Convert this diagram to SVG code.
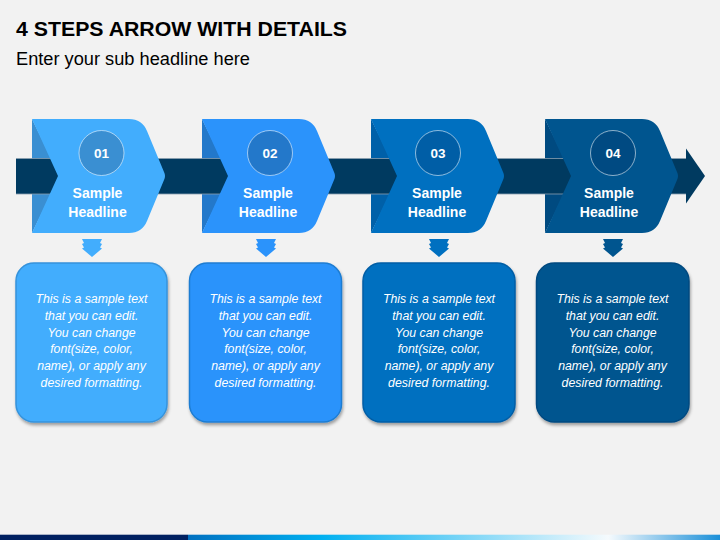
<svg xmlns="http://www.w3.org/2000/svg" width="720" height="540" viewBox="0 0 720 540">
<defs>
<style>
.title{font-family:"Liberation Sans",Arial,sans-serif;font-weight:bold;font-size:21px;fill:#000}
.sub{font-family:"Liberation Sans",Arial,sans-serif;font-size:17.5px;fill:#000}
.num{font-family:"Liberation Sans",Arial,sans-serif;font-weight:bold;font-size:13.5px;fill:#fff;text-anchor:middle}
.head{font-family:"Liberation Sans",Arial,sans-serif;font-weight:bold;font-size:14px;fill:#fff;text-anchor:middle}
.body{font-family:"Liberation Sans",Arial,sans-serif;font-style:italic;font-size:12.3px;fill:#fff;text-anchor:middle}
.ring{stroke:#ffffff;stroke-opacity:0.55;stroke-width:1}
</style>
<filter id="sh" x="-10%" y="-10%" width="120%" height="125%">
<feDropShadow dx="1" dy="2.5" stdDeviation="1.8" flood-color="#000" flood-opacity="0.35"/>
</filter>
<linearGradient id="bg" x1="0" y1="0" x2="1" y2="0">
<stop offset="0" stop-color="#0070c0"/>
<stop offset="0.25" stop-color="#00b0f0"/>
<stop offset="0.79" stop-color="#f5fafd"/>
<stop offset="1" stop-color="#1a8fd8"/>
</linearGradient>
</defs>
<rect width="720" height="540" fill="#f2f2f2"/>
<text class="title" x="16" y="36" textLength="331" lengthAdjust="spacingAndGlyphs">4 STEPS ARROW WITH DETAILS</text>
<text class="sub" x="16" y="64.5" textLength="234" lengthAdjust="spacingAndGlyphs">Enter your sub headline here</text>

<g id="shadows">
<polygon points="32,119 60,176 32,233" fill="#3a8fd2"/>
<polygon points="202,119 230,176 202,233" fill="#2378ca"/>
<polygon points="371,119 399,176 371,233" fill="#0060a8"/>
<polygon points="545,119 573,176 545,233" fill="#004a80"/>
</g>

<g id="connectors">
<rect x="16" y="158.5" width="672" height="35.5" fill="#003a60"/>
<line x1="16" y1="158.5" x2="688" y2="158.5" stroke="#8a9fb0" stroke-width="0.8"/>
<line x1="16" y1="194" x2="688" y2="194" stroke="#8a9fb0" stroke-width="0.8"/>
<polygon points="686,148.5 705,176 686,203.5" fill="#003a60"/>
</g>

<g id="step1">
<path d="M32,119 H129 Q142,119 147,131 L164,172 Q166,176 164,180 L147,221 Q142,233 129,233 H32 L58,176 Z" fill="#42adfd"/>
<circle class="ring" cx="101.5" cy="153" r="22.5" fill="#3a8fd2"/>
<text class="num" x="101.5" y="158">01</text>
<text class="head" x="97.5" y="197.5">Sample</text>
<text class="head" x="97.5" y="216.5">Headline</text>
<path d="M82,239 H102 L100,243 L102,244 L100,247.5 L102,248.5 L92,257 L82,248.5 L84,247.5 L82,244 L84,243 Z" fill="#42adfd"/>
<rect x="16" y="263" width="151" height="159" rx="18" fill="#42adfd" stroke="#3593dc" stroke-width="1.5" filter="url(#sh)"/>
<text class="body" x="91.5" y="303.3">This is a sample text</text>
<text class="body" x="91.5" y="320">that you can edit.</text>
<text class="body" x="91.5" y="336.7">You can change</text>
<text class="body" x="91.5" y="353.3">font(size, color,</text>
<text class="body" x="91.5" y="370">name), or apply any</text>
<text class="body" x="91.5" y="386.7">desired formatting.</text>
</g>

<g id="step2">
<path d="M202,119 H299 Q312,119 317,131 L334,172 Q336,176 334,180 L317,221 Q312,233 299,233 H202 L228,176 Z" fill="#2b93fb"/>
<circle class="ring" cx="270" cy="153" r="22.5" fill="#2378ca"/>
<text class="num" x="270" y="158">02</text>
<text class="head" x="268" y="197.5">Sample</text>
<text class="head" x="268" y="216.5">Headline</text>
<path d="M256,239 H276 L274,243 L276,244 L274,247.5 L276,248.5 L266,257 L256,248.5 L258,247.5 L256,244 L258,243 Z" fill="#2b93fb"/>
<rect x="189.5" y="263" width="152" height="159" rx="18" fill="#2b93fb" stroke="#1f7dd2" stroke-width="1.5" filter="url(#sh)"/>
<text class="body" x="265.5" y="303.3">This is a sample text</text>
<text class="body" x="265.5" y="320">that you can edit.</text>
<text class="body" x="265.5" y="336.7">You can change</text>
<text class="body" x="265.5" y="353.3">font(size, color,</text>
<text class="body" x="265.5" y="370">name), or apply any</text>
<text class="body" x="265.5" y="386.7">desired formatting.</text>
</g>

<g id="step3">
<path d="M371,119 H468 Q481,119 486,131 L503,172 Q505,176 503,180 L486,221 Q481,233 468,233 H371 L397,176 Z" fill="#0070c0"/>
<circle class="ring" cx="438" cy="153" r="22.5" fill="#005ea6"/>
<text class="num" x="438" y="158">03</text>
<text class="head" x="437" y="197.5">Sample</text>
<text class="head" x="437" y="216.5">Headline</text>
<path d="M429,239 H449 L447,243 L449,244 L447,247.5 L449,248.5 L439,257 L429,248.5 L431,247.5 L429,244 L431,243 Z" fill="#0070c0"/>
<rect x="363" y="263" width="152" height="159" rx="18" fill="#0070c0" stroke="#005ea6" stroke-width="1.5" filter="url(#sh)"/>
<text class="body" x="439" y="303.3">This is a sample text</text>
<text class="body" x="439" y="320">that you can edit.</text>
<text class="body" x="439" y="336.7">You can change</text>
<text class="body" x="439" y="353.3">font(size, color,</text>
<text class="body" x="439" y="370">name), or apply any</text>
<text class="body" x="439" y="386.7">desired formatting.</text>
</g>

<g id="step4">
<path d="M545,119 H642 Q655,119 660,131 L677,172 Q679,176 677,180 L660,221 Q655,233 642,233 H545 L571,176 Z" fill="#00558f"/>
<circle class="ring" cx="613" cy="153" r="22.5" fill="#004a82"/>
<text class="num" x="613" y="158">04</text>
<text class="head" x="609" y="197.5">Sample</text>
<text class="head" x="609" y="216.5">Headline</text>
<path d="M603,239 H623 L621,243 L623,244 L621,247.5 L623,248.5 L613,257 L603,248.5 L605,247.5 L603,244 L605,243 Z" fill="#00558f"/>
<rect x="536.5" y="263" width="152.5" height="159" rx="18" fill="#00558f" stroke="#004a80" stroke-width="1.5" filter="url(#sh)"/>
<text class="body" x="612.5" y="303.3">This is a sample text</text>
<text class="body" x="612.5" y="320">that you can edit.</text>
<text class="body" x="612.5" y="336.7">You can change</text>
<text class="body" x="612.5" y="353.3">font(size, color,</text>
<text class="body" x="612.5" y="370">name), or apply any</text>
<text class="body" x="612.5" y="386.7">desired formatting.</text>
</g>

<rect x="0" y="534.7" width="188" height="5.3" fill="#002060"/>
<rect x="188" y="534.7" width="532" height="5.3" fill="url(#bg)"/>
</svg>
